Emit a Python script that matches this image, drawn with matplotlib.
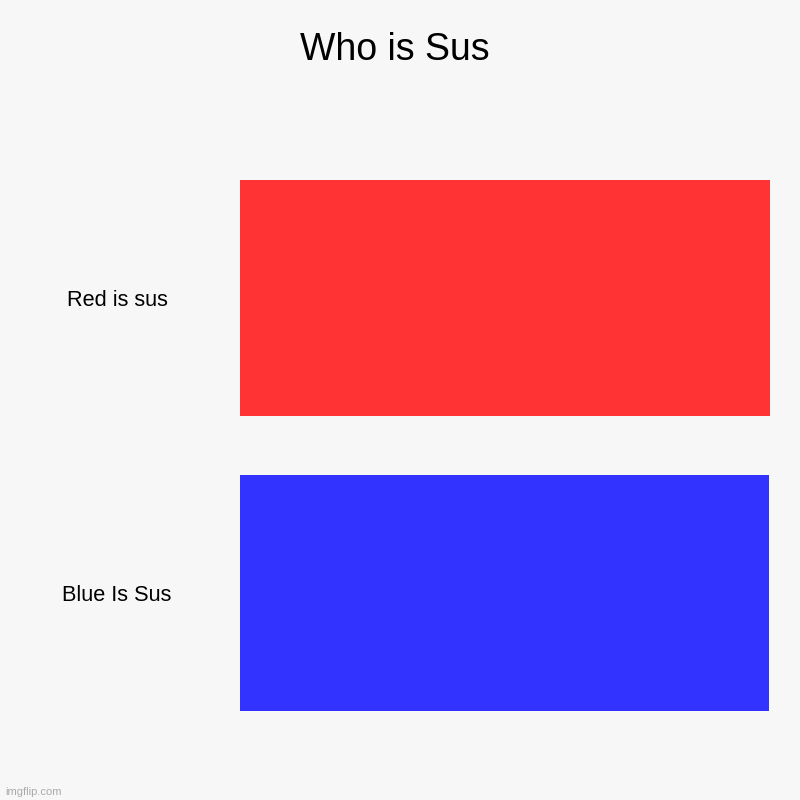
import matplotlib
matplotlib.use("Agg")
import matplotlib.pyplot as plt

plt.rcParams['font.family'] = ['Liberation Sans', 'DejaVu Sans']

categories = ["Red is sus", "Blue Is Sus"]
values = [100, 99.87]
colors = ["#ff3333", "#3333ff"]
title = "Who is Sus"

bg = "#f7f7f7"
fig = plt.figure(figsize=(8, 8), dpi=100, facecolor=bg)
ax = fig.add_axes([0.3, 0.0744, 0.6625, 0.7375])
ax.set_facecolor(bg)

ax.barh(range(len(categories)), values, height=0.8, color=colors)
ax.set_ylim(len(categories) - 0.5, -0.5)
ax.set_xlim(0, max(values))
ax.set_yticks(range(len(categories)))
ax.set_yticklabels(categories, fontsize=15.7, ha="center", va="center_baseline")
ax.tick_params(axis="y", length=0, pad=88.6)
ax.set_xticks([])
for s in ax.spines.values():
    s.set_visible(False)

fig.text(0.494, 0.937, title, fontsize=27, ha="center", va="center")
fig.text(0.006, 0.01, "imgflip.com", fontsize=8, color="#aaaaaa", ha="left", va="center")

fig.savefig("out.png", dpi=100, facecolor=bg)
